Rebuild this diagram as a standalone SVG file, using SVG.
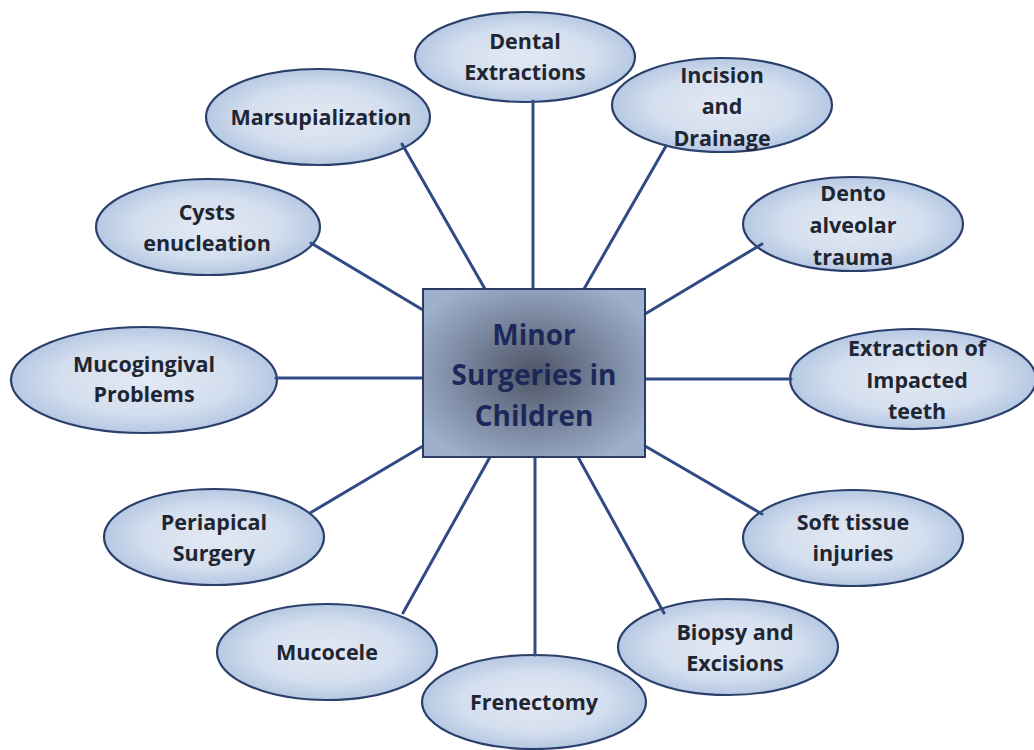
<svg xmlns="http://www.w3.org/2000/svg" width="1034" height="750" viewBox="0 0 1034 750">
  <defs>
    <radialGradient id="bubbleFill" cx="50%" cy="50%" r="50%">
      <stop offset="0%" stop-color="#e3e9f3"/>
      <stop offset="65%" stop-color="#d3deee"/>
      <stop offset="100%" stop-color="#b6c8e3"/>
    </radialGradient>
    <radialGradient id="hubFill" cx="50%" cy="50%" r="60%">
      <stop offset="0%" stop-color="#4e5465"/>
      <stop offset="55%" stop-color="#7a879f"/>
      <stop offset="100%" stop-color="#9fb0cd"/>
    </radialGradient>
    <style>
      .bubble { fill: url(#bubbleFill); stroke: #2b3f6b; stroke-width: 2.2; }
      .label { font-family: "Open Sans", "Liberation Sans", sans-serif; font-weight: 700; font-size: 21.5px; fill: #1f2633; text-anchor: middle; }
      .hub { fill: url(#hubFill); stroke: #2c3b63; stroke-width: 2; }
      .hubText { font-family: "Open Sans", "Liberation Sans", sans-serif; font-weight: 700; font-size: 28px; fill: #1b2859; text-anchor: middle; }
      .link { stroke: #2f4a84; stroke-width: 3; stroke-linecap: round; fill: none; }
    </style>
  </defs>

  <rect width="1034" height="750" fill="#ffffff"/>

  <!-- outer topics -->
  <g id="node-dental-extractions">
    <ellipse class="bubble" cx="525" cy="57" rx="110" ry="45"/>
    <text class="label" x="525" y="49">Dental</text>
    <text class="label" x="525" y="80">Extractions</text>
  </g>
  <g id="node-incision-drainage">
    <ellipse class="bubble" cx="722" cy="105" rx="110" ry="47"/>
    <text class="label" x="722" y="83">Incision</text>
    <text class="label" x="722" y="114">and</text>
    <text class="label" x="722" y="146">Drainage</text>
  </g>
  <g id="node-marsupialization">
    <ellipse class="bubble" cx="318" cy="117" rx="112" ry="48"/>
    <text class="label" x="321" y="125">Marsupialization</text>
  </g>
  <g id="node-cysts-enucleation">
    <ellipse class="bubble" cx="208" cy="227" rx="112" ry="48"/>
    <text class="label" x="207" y="220">Cysts</text>
    <text class="label" x="207" y="251">enucleation</text>
  </g>
  <g id="node-dento-alveolar-trauma">
    <ellipse class="bubble" cx="853" cy="224" rx="110" ry="47"/>
    <text class="label" x="853" y="201">Dento</text>
    <text class="label" x="853" y="233">alveolar</text>
    <text class="label" x="853" y="265">trauma</text>
  </g>
  <g id="node-mucogingival-problems">
    <ellipse class="bubble" cx="144" cy="380" rx="133" ry="53"/>
    <text class="label" x="144" y="372">Mucogingival</text>
    <text class="label" x="144" y="402">Problems</text>
  </g>
  <g id="node-extraction-impacted">
    <ellipse class="bubble" cx="913" cy="379" rx="123" ry="50"/>
    <text class="label" x="917" y="356">Extraction of</text>
    <text class="label" x="917" y="388">Impacted</text>
    <text class="label" x="917" y="419">teeth</text>
  </g>
  <g id="node-periapical-surgery">
    <ellipse class="bubble" cx="214" cy="537" rx="110" ry="48"/>
    <text class="label" x="214" y="530">Periapical</text>
    <text class="label" x="214" y="561">Surgery</text>
  </g>
  <g id="node-soft-tissue-injuries">
    <ellipse class="bubble" cx="853" cy="538" rx="110" ry="48"/>
    <text class="label" x="853" y="530">Soft tissue</text>
    <text class="label" x="853" y="561">injuries</text>
  </g>
  <g id="node-mucocele">
    <ellipse class="bubble" cx="327" cy="652" rx="110" ry="48"/>
    <text class="label" x="327" y="660">Mucocele</text>
  </g>
  <g id="node-biopsy-excisions">
    <ellipse class="bubble" cx="728" cy="647" rx="110" ry="48"/>
    <text class="label" x="735" y="640">Biopsy and</text>
    <text class="label" x="735" y="671">Excisions</text>
  </g>
  <g id="node-frenectomy">
    <ellipse class="bubble" cx="534" cy="702" rx="112" ry="47"/>
    <text class="label" x="534" y="710">Frenectomy</text>
  </g>

  <!-- spokes from the central box to each topic -->
  <g id="connectors">
    <line class="link" x1="533" y1="101" x2="533" y2="289"/>
    <line class="link" x1="666" y1="146" x2="584" y2="289"/>
    <line class="link" x1="402" y1="144" x2="485" y2="289"/>
    <line class="link" x1="311" y1="243" x2="423" y2="310"/>
    <line class="link" x1="762" y1="244" x2="645" y2="314"/>
    <line class="link" x1="276" y1="378" x2="423" y2="378"/>
    <line class="link" x1="791" y1="379" x2="645" y2="379"/>
    <line class="link" x1="310" y1="513" x2="423" y2="446"/>
    <line class="link" x1="762" y1="514" x2="645" y2="446"/>
    <line class="link" x1="403" y1="613" x2="490" y2="457"/>
    <line class="link" x1="664" y1="613" x2="578" y2="457"/>
    <line class="link" x1="535" y1="655" x2="535" y2="457"/>
  </g>

  <!-- central topic -->
  <g id="node-minor-surgeries">
    <rect class="hub" x="423" y="289" width="222" height="168"/>
    <text class="hubText" x="534" y="345">Minor</text>
    <text class="hubText" x="534" y="385">Surgeries in</text>
    <text class="hubText" x="534" y="426">Children</text>
  </g>
</svg>
